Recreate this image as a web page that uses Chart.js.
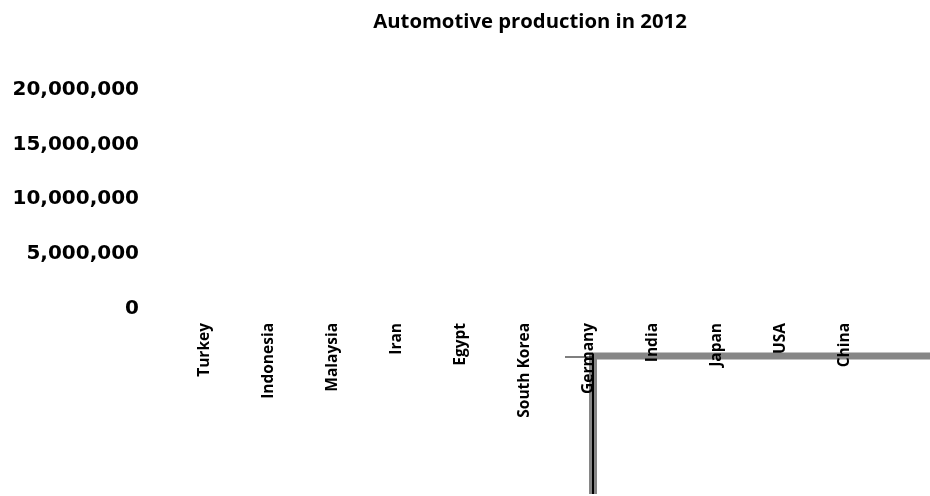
<!DOCTYPE html>
<html>
<head>
<meta charset="utf-8">
<script src="https://cdn.jsdelivr.net/npm/chart.js@4.4.1/dist/chart.umd.min.js"></script>
<style>
  html, body { margin: 0; padding: 0; background: #fff; }
  #wrap { width: 930px; height: 496px; }
</style>
</head>
<body>
<div id="wrap"><canvas id="bar-chart"></canvas></div>
<script>
var chartTitle = 'Automotive production in 2012';
var countries = ['Turkey', 'Indonesia', 'Malaysia', 'Iran', 'Egypt', 'South Korea',
                 'Germany', 'India', 'Japan', 'USA', 'China'];
// no bar values came through for this sheet
var production = [null, null, null, null, null, null, null, null, null, null, null];
var yTicks = [0, 5000000, 10000000, 15000000, 20000000];

// title centred over the plot, not over the whole canvas
var plotTitle = {
  id: 'plotTitle',
  afterDraw: function (chart) {
    var ctx = chart.ctx, area = chart.chartArea;
    ctx.save();
    ctx.fillStyle = '#000';
    ctx.font = 'bold 20.3px "Open Sans"';
    ctx.textAlign = 'center';
    ctx.textBaseline = 'middle';
    ctx.fillText(chartTitle, (area.left + area.right) / 2 + 5.5, 22);
    ctx.restore();
  }
};

// the stray axis frame under the Germany column, painted before the labels
var brokenFrame = {
  id: 'brokenFrame',
  beforeDraw: function (chart) {
    var ctx = chart.ctx;
    var x = chart.scales.x.getPixelForValue(countries.indexOf('Germany')) + 4.5;
    var y = chart.chartArea.bottom + 47.5;
    var end = chart.height - 2;
    ctx.save();
    ctx.fillStyle = '#868686';
    ctx.fillRect(x, y - 4, chart.width - x, 7);
    ctx.fillRect(x - 4, y - 3, 8, end - y + 3);
    ctx.fillStyle = '#000';
    ctx.fillRect(x - 1, y - 3, 2, end - y + 3);
    ctx.fillRect(x - 28, y, 28, 1);
    ctx.restore();
  }
};

new Chart(document.getElementById('bar-chart'), {
  type: 'bar',
  data: {
    labels: countries,
    datasets: [{ label: 'Production', data: production, backgroundColor: '#4f81bd' }]
  },
  options: {
    responsive: true,
    maintainAspectRatio: false,
    animation: false,
    layout: { padding: { left: 0, right: 53.5, top: 89.5, bottom: 0 } },
    plugins: {
      legend: { display: false },
      tooltip: { enabled: false },
      title: { display: false }
    },
    scales: {
      x: {
        grid: { display: false },
        border: { display: false },
        afterFit: function (axis) { axis.height = 187; },
        ticks: {
          color: '#000',
          minRotation: 90,
          maxRotation: 90,
          padding: 6,
          font: { family: 'Open Sans', size: 15.5, weight: 'bold' }
        }
      },
      y: {
        min: yTicks[0],
        max: yTicks[yTicks.length - 1],
        afterBuildTicks: function (axis) {
          axis.ticks = yTicks.map(function (v) { return { value: v }; });
        },
        afterFit: function (axis) { axis.width = 172.5; },
        grid: { display: false },
        border: { display: false },
        ticks: {
          color: '#000',
          padding: 25.5,
          font: { family: 'DejaVu Sans', size: 20, weight: 'bold' },
          callback: function (v) { return v.toLocaleString('en-US'); }
        }
      }
    }
  },
  plugins: [plotTitle, brokenFrame]
});
</script>
</body>
</html>
